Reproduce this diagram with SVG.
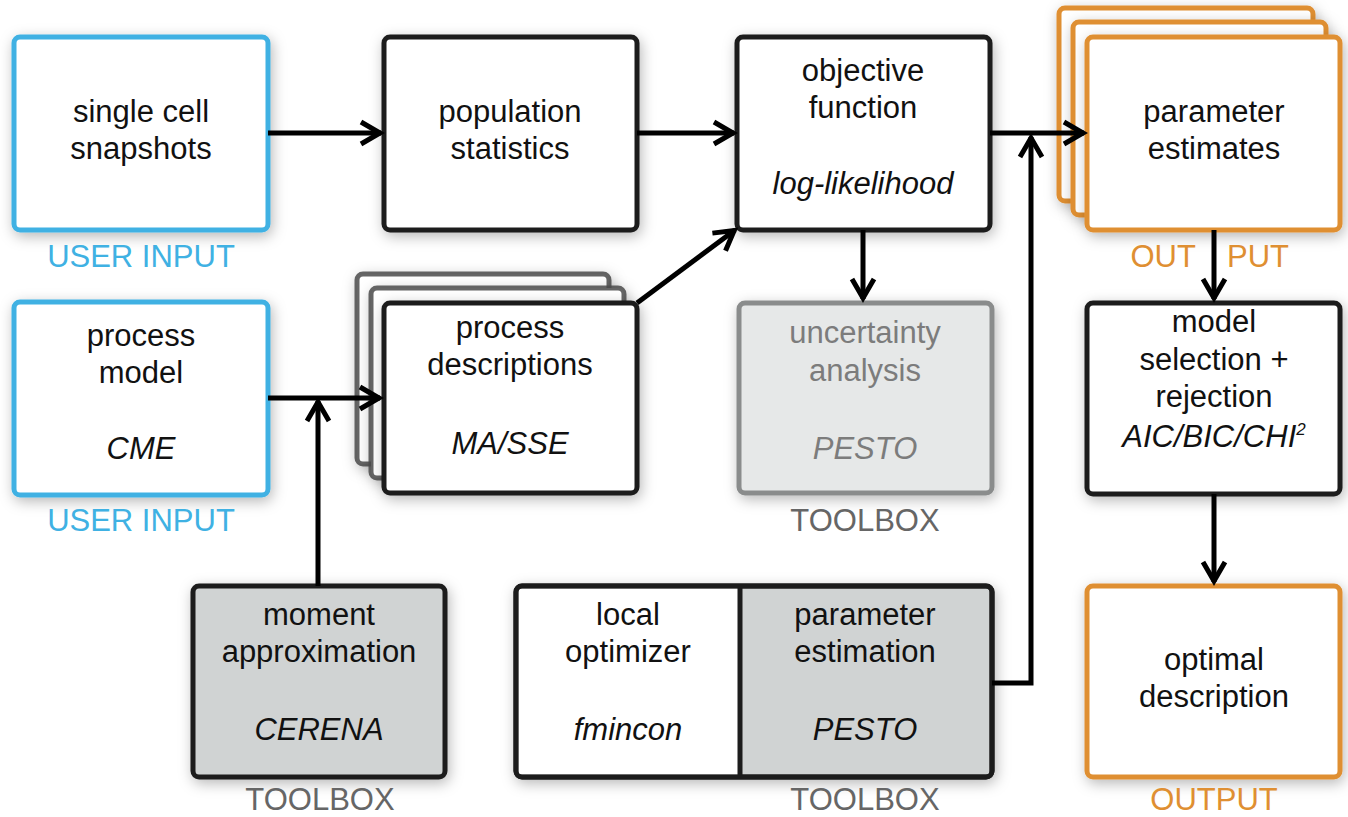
<svg xmlns="http://www.w3.org/2000/svg" width="1348" height="817" viewBox="0 0 1348 817">
<style>
text{font-family:"Liberation Sans",Arial,sans-serif;font-size:31px;text-anchor:middle;fill:#111}
.it{font-style:italic}
.box{fill:#fff;stroke:#1c1c1c;stroke-width:5}
.blue{fill:#fff;stroke:#3fb1e3;stroke-width:5}
.orange{fill:#fff;stroke:#df8f32;stroke-width:5}
.tool{fill:#d0d3d3;stroke:#1c1c1c;stroke-width:5}
.unc{fill:#e6e8e8;stroke:#8a8c8c;stroke-width:5}
.back{fill:#fff;stroke:#4a4a4a;stroke-width:5;stroke-opacity:0.85}
.lbl-blue{fill:#3fb1e3}
.lbl-orange{fill:#df8f32}
.lbl-gray{fill:#666}
.gray{fill:#7c7c7c}
.conn{fill:none;stroke:#000;stroke-width:5;marker-end:url(#arr)}
.sh{filter:url(#shadow)}
</style>
<defs>
<filter id="shadow" x="-20%" y="-20%" width="140%" height="140%">
<feDropShadow dx="2" dy="4" stdDeviation="7" flood-color="#000" flood-opacity="0.28"/>
</filter>
<marker id="arr" markerUnits="userSpaceOnUse" viewBox="-26 -16 32 32" refX="1" refY="0" markerWidth="32" markerHeight="32" orient="auto">
<path d="M-19,-11 L0,0 L-19,11" fill="none" stroke="#000" stroke-width="5" stroke-linejoin="miter" stroke-miterlimit="10"/>
</marker>
</defs>
<rect width="1348" height="817" fill="#fff"/>

<g id="single-cell-snapshots">
<rect class="blue sh" x="14" y="37" width="254" height="193" rx="6"/>
<text x="141" y="122">single cell</text>
<text x="141" y="159">snapshots</text>
<text class="lbl-blue" x="141" y="267">USER INPUT</text>
</g>

<g id="population-statistics">
<rect class="box sh" x="384" y="37" width="253" height="193" rx="6"/>
<text x="510" y="122">population</text>
<text x="510" y="159">statistics</text>
</g>

<g id="objective-function">
<rect class="box sh" x="737" y="37" width="253" height="193" rx="6"/>
<text x="863" y="81">objective</text>
<text x="863" y="118">function</text>
<text class="it" x="863" y="194">log-likelihood</text>
</g>

<g id="parameter-estimates">
<rect class="orange sh" x="1059" y="8" width="254" height="193" rx="6"/>
<rect class="orange sh" x="1073" y="22" width="253" height="193" rx="6"/>
<rect class="orange sh" x="1087" y="37" width="253" height="193" rx="6"/>
<text x="1214" y="122">parameter</text>
<text x="1214" y="159">estimates</text>
<text class="lbl-orange" y="267"><tspan x="1204" style="text-anchor:end">OUT</tspan> <tspan x="1227" style="text-anchor:start">PUT</tspan></text>
</g>

<g id="process-model">
<rect class="blue sh" x="14" y="302" width="254" height="193" rx="6"/>
<text x="141" y="346">process</text>
<text x="141" y="383">model</text>
<text class="it" x="141" y="459">CME</text>
<text class="lbl-blue" x="141" y="531">USER INPUT</text>
</g>

<g id="process-descriptions">
<rect class="back sh" x="357" y="274" width="252" height="190" rx="6"/>
<rect class="back sh" x="371" y="288" width="253" height="190" rx="6"/>
<rect class="box sh" x="384" y="303" width="253" height="190" rx="6"/>
<text x="510" y="338">process</text>
<text x="510" y="375">descriptions</text>
<text class="it" x="510" y="454">MA/SSE</text>
</g>

<g id="uncertainty-analysis">
<rect class="unc sh" x="739" y="303" width="253" height="190" rx="6"/>
<text class="gray" x="865" y="343">uncertainty</text>
<text class="gray" x="865" y="381">analysis</text>
<text class="gray it" x="865" y="459">PESTO</text>
<text class="lbl-gray" x="865" y="531">TOOLBOX</text>
</g>

<g id="model-selection">
<rect class="box sh" x="1087" y="303" width="253" height="191" rx="6"/>
<text x="1214" y="332">model</text>
<text x="1214" y="370">selection +</text>
<text x="1214" y="407">rejection</text>
<text class="it" x="1214" y="447">AIC/BIC/CHI<tspan font-size="17" dy="-12">2</tspan></text>
</g>

<g id="moment-approximation">
<rect class="tool sh" x="193" y="586" width="252" height="191" rx="6"/>
<text x="319" y="625">moment</text>
<text x="319" y="662">approximation</text>
<text class="it" x="319" y="740">CERENA</text>
<text class="lbl-gray" x="320" y="810">TOOLBOX</text>
</g>

<g id="parameter-estimation">
<rect class="tool sh" x="516" y="586" width="476" height="191" rx="6"/>
<path d="M740,588.5 H522 Q518.5,588.5 518.5,592 V771 Q518.5,774.5 522,774.5 H740 Z" fill="#fff"/>
<line x1="740" y1="586" x2="740" y2="777" stroke="#1c1c1c" stroke-width="5"/>
<rect x="516" y="586" width="476" height="191" rx="6" fill="none" stroke="#1c1c1c" stroke-width="5"/>
<text x="628" y="625">local</text>
<text x="628" y="662">optimizer</text>
<text class="it" x="628" y="740">fmincon</text>
<text x="865" y="625">parameter</text>
<text x="865" y="662">estimation</text>
<text class="it" x="865" y="740">PESTO</text>
<text class="lbl-gray" x="865" y="810">TOOLBOX</text>
</g>

<g id="optimal-description">
<rect class="orange sh" x="1087" y="586" width="253" height="191" rx="6"/>
<text x="1214" y="670">optimal</text>
<text x="1214" y="707">description</text>
<text class="lbl-orange" x="1214" y="810">OUTPUT</text>
</g>

<g id="connectors">
<path class="conn" d="M268,133 H381"/>
<path class="conn" d="M637,133 H734"/>
<path class="conn" d="M990,133 H1084"/>
<path class="conn" d="M992,683 H1031 V137"/>
<path class="conn" d="M863,230 V299"/>
<path class="conn" d="M1214,230 V299"/>
<path class="conn" d="M1214,494 V582"/>
<path class="conn" d="M268,398 H380"/>
<path class="conn" d="M318,586 V401"/>
<path class="conn" d="M637,303 L735,230"/>
</g>
</svg>
